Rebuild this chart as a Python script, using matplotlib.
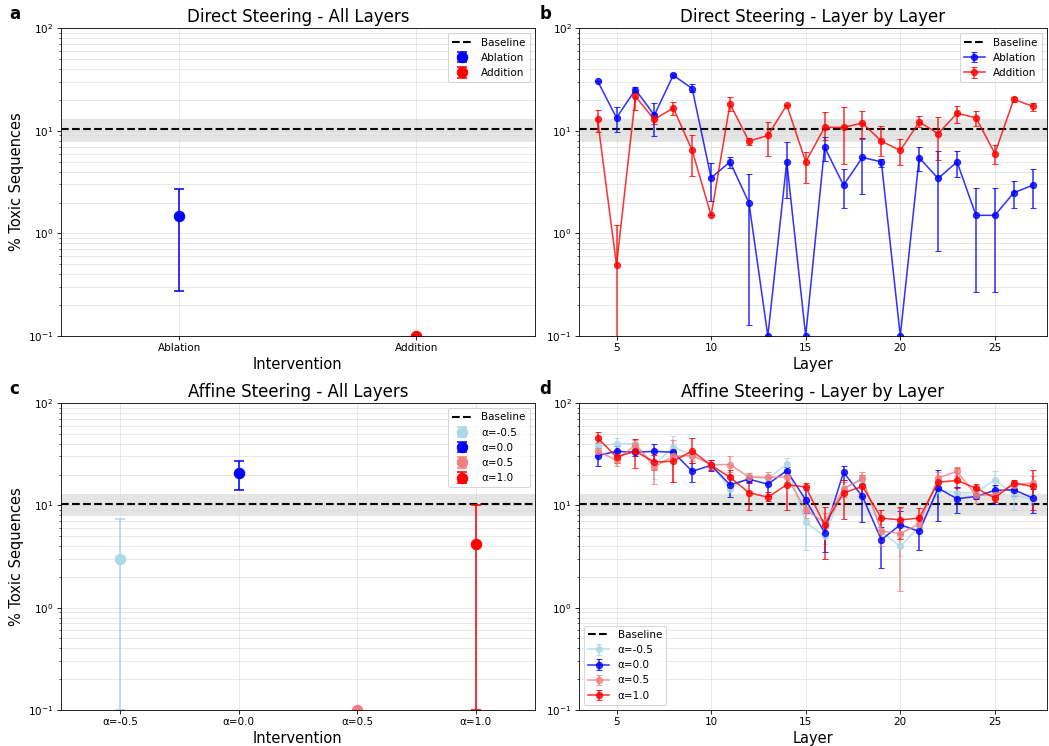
import numpy as np
import matplotlib
matplotlib.use("Agg")
import matplotlib.pyplot as plt

# ---------------- data ----------------
baseline = 10.4
baseline_low = 8.0
baseline_high = 12.9

# Direct steering, all layers
direct_all_labels = ["Ablation", "Addition"]
direct_all_vals = [1.48, 0.1]
direct_all_low = [0.274, 0.1]
direct_all_high = [2.7, 0.1]
direct_all_colors = ["blue", "red"]

# Direct steering, layer by layer
layers = list(range(4, 28))
abl_vals = [30.6, 13.4, 25.2, 14.2, 34.8, 25.8, 3.48, 4.98, 1.99, 0.1, 4.98, 0.1,
            6.92, 2.95, 5.5, 4.98, 0.1, 5.47, 3.43, 4.98, 1.5, 1.5, 2.49, 2.95]
abl_low = [30.6, 9.8, 24.0, 8.9, 33.5, 23.9, 2.08, 4.3, 0.128, 0.1, 2.19, 0.1,
           5.06, 1.78, 2.4, 4.4, 0.1, 4.04, 0.68, 3.56, 0.27, 0.27, 1.78, 1.78]
abl_high = [30.6, 17.1, 26.5, 18.7, 36.0, 28.9, 4.87, 5.57, 3.8, 0.1, 7.7, 0.1,
            8.7, 4.2, 8.5, 5.37, 0.1, 6.9, 6.32, 6.32, 2.74, 2.74, 3.23, 4.2]
add_vals = [12.9, 0.49, 21.6, 12.9, 16.7, 6.43, 1.5, 18.3, 7.92, 9.0, 17.8, 4.98,
            10.8, 10.8, 11.9, 7.92, 6.43, 12.2, 9.4, 14.8, 13.4, 6.0, 20.3, 17.3]
add_low = [9.8, 0.01, 15.9, 11.6, 14.3, 3.64, 1.5, 15.5, 7.2, 5.66, 17.8, 3.07,
           8.1, 4.7, 8.3, 5.66, 4.6, 10.8, 5.2, 11.9, 11.2, 4.7, 19.0, 15.5]
add_high = [16.1, 1.2, 23.1, 14.6, 19.1, 9.2, 1.5, 21.4, 8.5, 12.2, 17.8, 6.2,
            15.1, 17.1, 15.5, 11.2, 8.4, 14.0, 13.5, 17.6, 15.5, 7.3, 21.4, 18.7]

# Affine steering, all layers
alpha_labels = ["α=-0.5", "α=0.0", "α=0.5", "α=1.0"]
alpha_colors = ["lightblue", "blue", "lightcoral", "red"]
affine_all_vals = [3.02, 20.5, 0.1, 4.18]
affine_all_low = [0.1, 14.2, 0.1, 0.1]
affine_all_high = [7.4, 27.1, 0.1, 10.1]

# Affine steering, layer by layer (one row per alpha)
affine_vals = [
    [37.7, 40.0, 40.0, 25.0, 37.0, 31.0, 25.0, 14.5, 18.9, 18.3, 25.2, 6.8,
     5.0, 14.7, 17.8, 5.55, 3.96, 6.2, 14.0, 13.3, 13.3, 17.8, 12.7, 11.4],
    [30.6, 33.7, 33.0, 33.7, 33.0, 21.5, 24.6, 15.9, 18.0, 16.1, 21.8, 11.3,
     5.4, 21.0, 12.2, 4.6, 6.46, 5.55, 14.7, 11.6, 12.2, 14.0, 14.2, 11.8],
    [34.0, 27.5, 39.0, 23.7, 30.2, 30.6, 25.0, 25.0, 18.9, 18.8, 18.9, 9.05,
     6.8, 14.5, 18.3, 5.6, 5.3, 6.6, 18.5, 21.5, 12.5, 12.7, 15.9, 16.5],
    [45.6, 29.8, 33.7, 26.5, 26.9, 34.0, 24.6, 18.8, 13.3, 12.0, 15.9, 15.1,
     6.46, 13.2, 15.3, 7.5, 7.2, 7.5, 16.8, 17.5, 14.7, 11.8, 16.5, 15.3],
]
affine_low = [
    [33.0, 34.0, 36.0, 18.0, 32.0, 28.0, 22.0, 12.5, 17.0, 16.5, 22.5, 3.67,
     4.2, 12.5, 16.0, 4.4, 3.2, 5.0, 12.0, 11.5, 11.8, 15.5, 8.9, 10.0],
    [24.0, 29.0, 30.5, 27.0, 30.5, 17.0, 21.5, 12.0, 16.5, 12.2, 20.0, 8.5,
     3.5, 17.8, 6.8, 2.43, 5.2, 3.67, 7.1, 8.5, 11.5, 10.2, 12.2, 8.4],
    [30.0, 24.0, 35.0, 16.3, 17.0, 27.0, 22.5, 21.0, 17.5, 16.5, 17.0, 7.5,
     5.0, 12.0, 15.5, 4.0, 1.47, 5.5, 16.0, 19.5, 10.5, 11.5, 14.5, 12.0],
    [41.0, 26.0, 23.0, 22.0, 17.0, 26.0, 22.0, 14.7, 9.0, 11.0, 9.0, 14.0,
     2.98, 7.3, 12.2, 5.7, 4.7, 5.8, 14.5, 14.7, 13.2, 10.8, 15.3, 9.0],
]
affine_high = [
    [42.0, 45.6, 44.0, 28.0, 48.0, 34.0, 27.5, 16.5, 20.5, 20.0, 29.0, 9.7,
     6.0, 17.0, 19.6, 6.6, 4.8, 7.5, 16.0, 15.2, 15.0, 21.5, 14.2, 12.8],
    [36.0, 38.0, 35.5, 40.0, 35.5, 25.8, 27.5, 19.6, 19.8, 18.3, 23.5, 15.1,
     7.2, 24.0, 16.0, 6.2, 8.8, 7.5, 22.0, 15.0, 13.2, 15.9, 15.9, 14.5],
    [38.0, 31.0, 43.0, 28.0, 43.0, 34.0, 27.5, 30.0, 20.5, 21.0, 21.0, 10.8,
     8.5, 17.0, 21.0, 7.5, 9.5, 8.0, 21.0, 23.5, 14.5, 14.0, 17.3, 19.5],
    [52.0, 34.0, 44.0, 31.0, 34.0, 45.0, 27.5, 22.0, 17.0, 13.5, 21.0, 16.5,
     9.7, 17.8, 19.6, 9.1, 9.7, 9.5, 19.0, 23.2, 16.2, 12.8, 17.6, 22.0],
]


def asym_err(vals, low, high):
    v = np.asarray(vals, dtype=float)
    lo = np.asarray(low, dtype=float)
    hi = np.asarray(high, dtype=float)
    return np.vstack([np.clip(v - lo, 0, None), np.clip(hi - v, 0, None)])


def style_axes(ax):
    ax.set_yscale("log")
    ax.set_ylim(0.1, 100)
    ax.grid(True, which="both", color="#d9d9d9", alpha=0.7, linewidth=0.8)
    ax.axhspan(baseline_low, baseline_high, color="gray", alpha=0.2, linewidth=0)
    ax.axhline(baseline, color="black", linestyle="--", linewidth=2, label="Baseline")
    ax.tick_params(labelsize=10)


plt.rcParams["font.family"] = ["DejaVu Sans"]
fig = plt.figure(figsize=(1049 / 75, 746 / 75), dpi=75)

ax_a = fig.add_axes([0.058, 0.5496, 0.452, 0.4126])
ax_b = fig.add_axes([0.552, 0.5496, 0.446, 0.4126])
ax_c = fig.add_axes([0.058, 0.0483, 0.452, 0.4115])
ax_d = fig.add_axes([0.552, 0.0483, 0.446, 0.4115])

layer_xlim = (3.02, 27.75)
title_size = 16
label_size = 14

# ---- a: direct steering, all layers ----
style_axes(ax_a)
xa = np.arange(len(direct_all_labels))
for i, lab in enumerate(direct_all_labels):
    ax_a.errorbar([xa[i]], [direct_all_vals[i]],
                  yerr=asym_err([direct_all_vals[i]], [direct_all_low[i]], [direct_all_high[i]]),
                  fmt="o", color=direct_all_colors[i], markersize=10, capsize=5,
                  elinewidth=1.5, capthick=1.5, label=lab)
ax_a.set_xticks(xa)
ax_a.set_xticklabels(direct_all_labels)
ax_a.set_xlim(-0.5, 1.5)
ax_a.set_xlabel("Intervention", fontsize=label_size)
ax_a.set_ylabel("% Toxic Sequences", fontsize=label_size)
ax_a.set_title("Direct Steering - All Layers", fontsize=title_size)
ax_a.legend(loc="upper right", fontsize=10)

# ---- b: direct steering, layer by layer ----
style_axes(ax_b)
ax_b.errorbar(layers, abl_vals, yerr=asym_err(abl_vals, abl_low, abl_high),
              fmt="-o", color="blue", alpha=0.8, markersize=6, capsize=3,
              linewidth=1.5, label="Ablation")
ax_b.errorbar(layers, add_vals, yerr=asym_err(add_vals, add_low, add_high),
              fmt="-o", color="red", alpha=0.8, markersize=6, capsize=3,
              linewidth=1.5, label="Addition")
ax_b.set_xlim(*layer_xlim)
ax_b.set_xlabel("Layer", fontsize=label_size)
ax_b.set_title("Direct Steering - Layer by Layer", fontsize=title_size)
ax_b.legend(loc="upper right", fontsize=10)

# ---- c: affine steering, all layers ----
style_axes(ax_c)
xc = np.arange(len(alpha_labels))
for i, lab in enumerate(alpha_labels):
    ax_c.errorbar([xc[i]], [affine_all_vals[i]],
                  yerr=asym_err([affine_all_vals[i]], [affine_all_low[i]], [affine_all_high[i]]),
                  fmt="o", color=alpha_colors[i], markersize=10, capsize=5,
                  elinewidth=1.5, capthick=1.5, label=lab)
ax_c.set_xticks(xc)
ax_c.set_xticklabels(alpha_labels)
ax_c.set_xlim(-0.5, 3.5)
ax_c.set_xlabel("Intervention", fontsize=label_size)
ax_c.set_ylabel("% Toxic Sequences", fontsize=label_size)
ax_c.set_title("Affine Steering - All Layers", fontsize=title_size)
ax_c.legend(loc="upper right", fontsize=10)

# ---- d: affine steering, layer by layer ----
style_axes(ax_d)
for i, lab in enumerate(alpha_labels):
    ax_d.errorbar(layers, affine_vals[i],
                  yerr=asym_err(affine_vals[i], affine_low[i], affine_high[i]),
                  fmt="-o", color=alpha_colors[i], alpha=0.8, markersize=6,
                  capsize=3, linewidth=1.5, label=lab)
ax_d.set_xlim(*layer_xlim)
ax_d.set_xlabel("Layer", fontsize=label_size)
ax_d.set_title("Affine Steering - Layer by Layer", fontsize=title_size)
ax_d.legend(loc="lower left", fontsize=10)

# panel letters
letter_pos = {"a": (0.009, 0.993), "b": (0.514, 0.993),
              "c": (0.009, 0.49), "d": (0.514, 0.49)}
for letter, (lx, ly) in letter_pos.items():
    fig.text(lx, ly, letter, fontsize=16, fontweight="bold", va="top", ha="left")

fig.savefig("out.png", dpi=75)
